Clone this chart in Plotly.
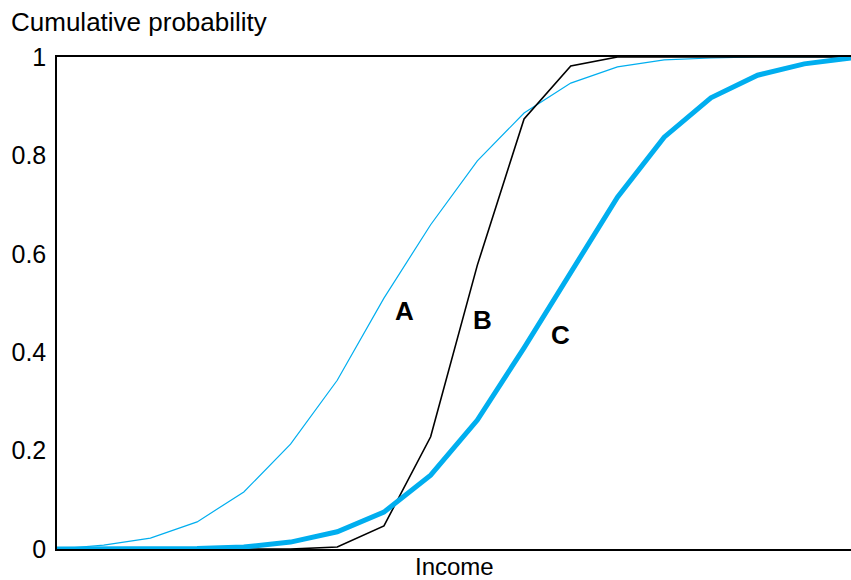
import plotly.graph_objects as go

# Income steps (evenly spaced, unlabelled on the axis)
income = list(range(18))

# Cumulative probability for the three income distributions
dist_a = [0.0, 0.008, 0.022, 0.055, 0.116, 0.213, 0.343, 0.51, 0.659, 0.789,
          0.886, 0.947, 0.98, 0.994, 0.998, 1.0, 1.0, 1.0]
dist_b = [0.0, 0.0, 0.0, 0.0, 0.0, 0.0, 0.004, 0.047, 0.228, 0.577,
          0.874, 0.982, 1.0, 1.0, 1.0, 1.0, 1.0, 1.0]
dist_c = [0.0, 0.0, 0.0, 0.001, 0.004, 0.014, 0.035, 0.075, 0.150, 0.262,
          0.409, 0.563, 0.715, 0.837, 0.917, 0.963, 0.986, 0.998]

y_ticks = [0, 0.2, 0.4, 0.6, 0.8, 1]
y_tick_text = ["0", "0.2", "0.4", "0.6", "0.8", "1"]

labels = ["A", "B", "C"]
label_x = [7.45, 9.12, 10.79]
label_y = [0.484, 0.465, 0.435]

BLUE = "#00AEEF"
FONT = "Liberation Sans, Arial, sans-serif"

fig = go.Figure()
fig.add_trace(go.Scatter(x=income, y=dist_a, mode="lines",
                         line=dict(color=BLUE, width=1.2)))
fig.add_trace(go.Scatter(x=income, y=dist_b, mode="lines",
                         line=dict(color="black", width=1.6)))
fig.add_trace(go.Scatter(x=income, y=dist_c, mode="lines",
                         line=dict(color=BLUE, width=5)))

for t, lx, ly in zip(labels, label_x, label_y):
    fig.add_annotation(x=lx, y=ly, text=f"<b>{t}</b>", showarrow=False,
                       font=dict(family=FONT, size=26, color="black"))

fig.add_annotation(xref="paper", yref="paper", x=-0.06, y=1.0,
                   yshift=35, xanchor="left", yanchor="middle",
                   text="Cumulative probability", showarrow=False,
                   font=dict(family=FONT, size=26, color="black"))
fig.add_annotation(xref="paper", yref="paper", x=0.5, y=0,
                   yshift=-17, xanchor="center", yanchor="middle",
                   text="Income", showarrow=False, borderpad=0,
                   font=dict(family=FONT, size=24, color="black"))

fig.update_layout(
    width=851, height=580,
    margin=dict(l=57, r=0, t=57, b=31),
    plot_bgcolor="white", paper_bgcolor="white",
    showlegend=False,
    font=dict(family=FONT, color="black"),
    xaxis=dict(range=[0, 17], showgrid=False, zeroline=False,
               showticklabels=False, ticks="",
               showline=True, linecolor="black", linewidth=1.5, mirror=True),
    yaxis=dict(range=[0, 1], showgrid=False, zeroline=False,
               tickvals=y_ticks, ticktext=y_tick_text, ticks="",
               ticklabelstandoff=4,
               tickfont=dict(family=FONT, size=25, color="black"),
               showline=True, linecolor="black", linewidth=1.5),
)

fig.write_html("out.html")
